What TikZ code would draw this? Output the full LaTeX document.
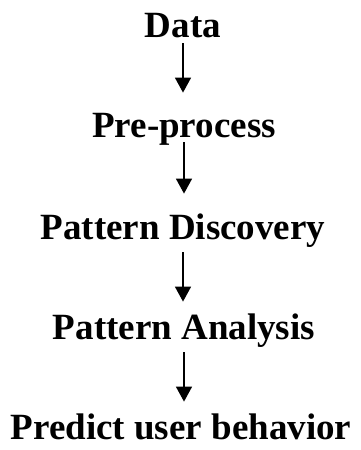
\documentclass[tikz,border=0pt]{standalone}
\usepackage{fontspec}
\setmainfont{Liberation Serif}
\usetikzlibrary{arrows.meta}
\begin{document}
\begin{tikzpicture}[x=1pt,y=-1pt,
  stage/.style={anchor=south,inner sep=0pt,text height=25pt,text depth=0pt,
    font=\bfseries\fontsize{37}{40}\selectfont},
  flow/.style={line width=1.4pt,-{Triangle[width=16pt,length=15pt]}}]
\useasboundingbox (0,0) rectangle (360,450);
\node[stage] (data) at (183,38)  {Data};
\node[stage] (pre)  at (184,138) {Pre-process};
\node[stage] (disc) at (183,240) {Pattern Discovery};
\node[stage] (anal) at (184,340) {Pattern Analysis};
\node[stage] (pred) at (181,440) {Predict user behavior};
\draw[flow,shorten <=5pt,shorten >=20pt] (data.south) -- (data.south |- pre.north);
\draw[flow,shorten <=4pt,shorten >=21pt] (pre.south) -- (pre.south |- disc.north);
\draw[flow,shorten <=12pt,shorten >=13pt] (disc.south) -- (disc.south |- anal.north);
\draw[flow,shorten <=12pt,shorten >=13pt] (anal.south) -- (anal.south |- pred.north);
\end{tikzpicture}
\end{document}
